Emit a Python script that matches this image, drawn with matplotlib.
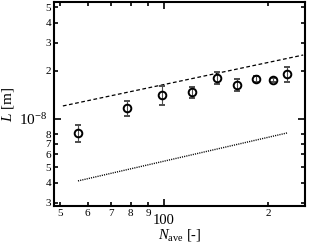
import numpy as np
import matplotlib
matplotlib.use('Agg')
import matplotlib.pyplot as plt
from matplotlib.ticker import FixedLocator, FuncFormatter

plt.rcParams['font.family'] = ['Liberation Serif', 'DejaVu Serif']
plt.rcParams['mathtext.fontset'] = 'custom'
plt.rcParams['mathtext.rm'] = 'Liberation Serif'
plt.rcParams['mathtext.it'] = 'Liberation Serif:italic'

# measured points
n_ave = [56.3, 78.1, 98.7, 120.6, 142.4, 162.8, 184.8, 207.0, 227.3]
L_val = [0.818e-8, 1.17e-8, 1.41e-8, 1.47e-8, 1.80e-8, 1.63e-8, 1.78e-8, 1.75e-8, 1.91e-8]
L_err = [0.10e-8, 0.13e-8, 0.19e-8, 0.125e-8, 0.155e-8, 0.14e-8, 0.075e-8, 0.05e-8, 0.21e-8]

# guide lines (end points)
dash_n = [50.9, 252.9]
dash_L = [1.206e-8, 2.51e-8]
dot_n = [56.3, 227.3]
dot_L = [0.41e-8, 0.818e-8]

fig = plt.figure(figsize=(3.09, 2.42), dpi=100)
ax = fig.add_axes([0.175, 0.149, 0.812, 0.843])

ax.plot(dash_n, dash_L, color='k', lw=0.9, dashes=(3, 2))
ax.plot(dot_n, dot_L, color='k', lw=1.0, dashes=(0.8, 0.8))
ax.errorbar(n_ave, L_val, yerr=L_err, fmt='o', mfc='none', mec='k', mew=1.4, ms=5.5,
            ecolor='0.3', elinewidth=0.8, capsize=2.2, capthick=0.8)

ax.set_xscale('log')
ax.set_yscale('log')
ax.set_xlim(48.0, 256)
ax.set_ylim(2.86e-9, 5.39e-8)

ax.xaxis.set_major_locator(FixedLocator([100]))
ax.xaxis.set_minor_locator(FixedLocator([50, 60, 70, 80, 90, 200]))
ax.yaxis.set_major_locator(FixedLocator([1e-8]))
ax.yaxis.set_minor_locator(FixedLocator([3e-9, 4e-9, 5e-9, 6e-9, 7e-9, 8e-9, 2e-8, 3e-8, 4e-8, 5e-8]))

ax.xaxis.set_major_formatter(FuncFormatter(lambda v, p: '100'))
ax.yaxis.set_major_formatter(FuncFormatter(lambda v, p: r'$\mathregular{10^{-8}}$'))
def lead_digit(v, p):
    return '%d' % round(v / 10 ** np.floor(np.log10(v) + 1e-9))
ax.xaxis.set_minor_formatter(FuncFormatter(lead_digit))
ax.yaxis.set_minor_formatter(FuncFormatter(lead_digit))

ax.tick_params(which='both', direction='in', top=True, right=True, width=1.2)
ax.tick_params(which='major', length=5, labelsize=11, pad=5)
ax.tick_params(which='minor', length=3, labelsize=8, pad=2)
ax.tick_params(axis='x', which='major', pad=5.5, labelsize=10.5)
for s in ax.spines.values():
    s.set_linewidth(1.5)

ax.set_xlabel(r'$N_{\mathregular{ave}}$ [-]', fontsize=10.5)
ax.set_ylabel(r'$L$ [m]', fontsize=11, labelpad=2)
ax.xaxis.set_label_coords(0.5, -0.103)

fig.savefig('out.png', dpi=100)
